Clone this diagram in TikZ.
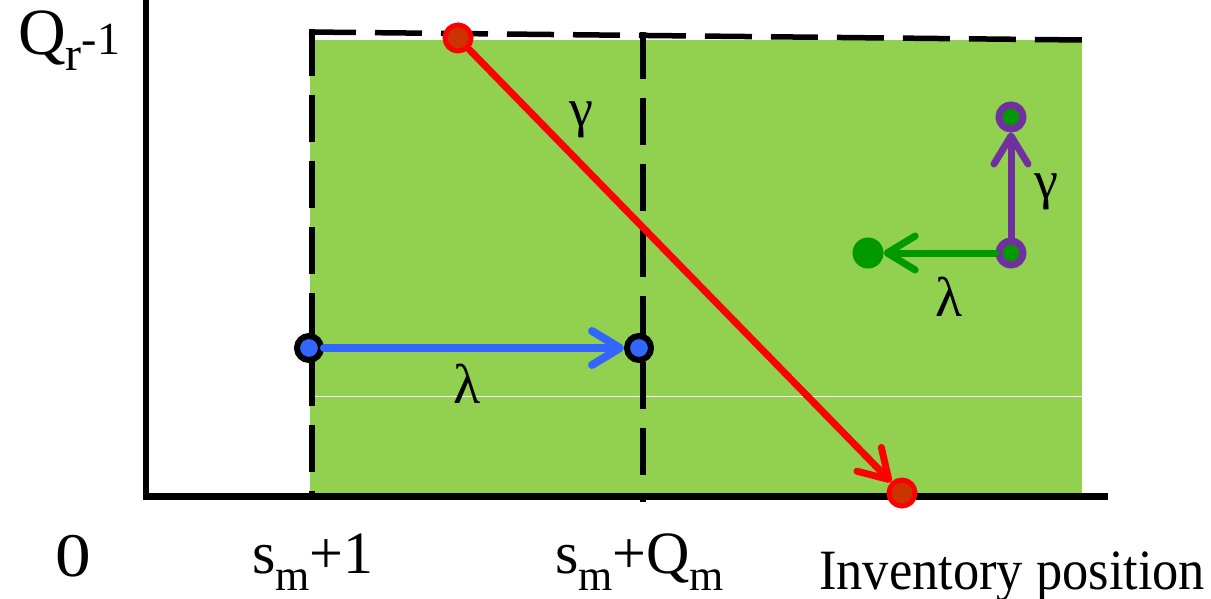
\documentclass[tikz,border=0pt]{standalone}
\usepackage{graphicx}
\usepackage{fontspec}
\setmainfont{Liberation Serif}
\usetikzlibrary{arrows.meta}
\definecolor{fillgreen}{HTML}{92D050}
\definecolor{myred}{HTML}{FF0000}
\definecolor{redcore}{HTML}{CC3300}
\definecolor{myblue}{HTML}{3366FF}
\definecolor{mypurple}{HTML}{7030A0}
\definecolor{mygreen}{HTML}{009900}
\tikzset{
  dashline/.style={line width=5.5pt, dash pattern=on 47pt off 19pt},
  reddot/.style={circle, draw=myred, fill=redcore, line width=5pt, minimum size=26pt, inner sep=0pt},
  bluedot/.style={circle, draw=black, fill=myblue, line width=6pt, minimum size=24pt, inner sep=0pt},
  purpledot/.style={circle, draw=mypurple, fill=mygreen, line width=7pt, minimum size=24pt, inner sep=0pt},
  greendot/.style={circle, fill=mygreen, minimum size=31pt, inner sep=0pt},
  arr/.style={line width=7pt, line cap=round, -{Straight Barb[length=28pt, width=34pt, round]}},
  lbl/.style={inner sep=0pt, text=black}
}
\begin{document}
\begin{tikzpicture}[x=1pt,y=-1pt]
\useasboundingbox (0,0) rectangle (1211,599);
% green region
\fill[fillgreen] (310,40) rectangle (1082,493);
\draw[white, line width=1pt] (313,396) -- (1082,396);
% dashed boundaries
\draw[dashline] (309,32) -- (1083,40);
\draw[dashline] (312,29) -- (312,493);
\draw[dashline] (643,32) -- (643,502);
% axes
\draw[line width=5.5pt] (146,0) -- (146,499);
\draw[line width=7pt] (143,496) -- (1108,496);
% states
\node[reddot] (r1) at (458,38) {};
\node[reddot] (r2) at (902,493) {};
\node[bluedot] (b1) at (309,348) {};
\node[bluedot] (b2) at (639,348) {};
\node[purpledot] (p1) at (1011,253) {};
\node[purpledot] (p2) at (1011,117) {};
\node[greendot] (g1) at (868,253) {};
% transitions
\draw[arr, myred] (r1) -- (r2);
\draw[arr, myblue, line width=8pt] (b1) -- (b2);
\draw[arr, mygreen] (p1) -- (g1);
\draw[arr, mypurple] (p1) -- (p2);
% rate labels
\node[lbl, font=\fontsize{54}{54}\selectfont] (gam1) at (581,120) {γ};
\node[lbl, font=\fontsize{56}{56}\selectfont] (lam1) at (467,384) {λ};
\node[lbl, font=\fontsize{54}{54}\selectfont] (gam2) at (1046,192) {γ};
\node[lbl, font=\fontsize{56}{56}\selectfont] (lam2) at (949,297) {λ};
% axis labels
\node[lbl, anchor=base west] (qr) at (18,55) {\fontsize{66}{66}\selectfont Q\raisebox{-16pt}{\fontsize{48}{48}\selectfont r}\fontsize{46}{46}\selectfont -1};
\node[lbl, anchor=base west] (zero) at (55,576) {\fontsize{62}{62}\selectfont\scalebox{1.15}[1]{0}};
\node[lbl, anchor=base west] (s1) at (252,573) {\fontsize{60}{60}\selectfont s\raisebox{-17pt}{\fontsize{44}{44}\selectfont m}+1};
\node[lbl, anchor=base west] (s2) at (555,573) {\fontsize{60}{60}\selectfont s\raisebox{-17pt}{\fontsize{44}{44}\selectfont m}+Q\raisebox{-17pt}{\fontsize{44}{44}\selectfont m}};
\node[lbl, anchor=base west] (inv) at (819,589) {\fontsize{57}{57}\selectfont\scalebox{0.92}[1]{Inventory position}};
\end{tikzpicture}
\end{document}
